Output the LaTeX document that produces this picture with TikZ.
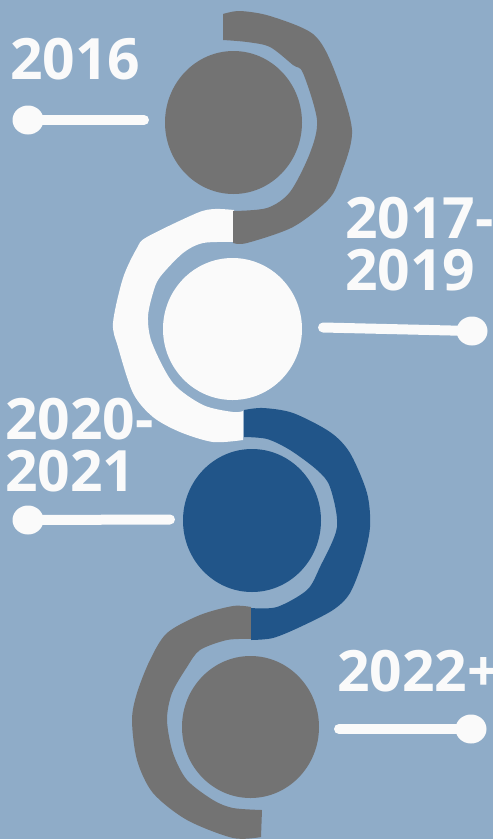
\documentclass[tikz,border=0pt]{standalone}
\usepackage{fontspec}
\setmainfont{Open Sans}
\usetikzlibrary{shapes.geometric}
\definecolor{bg}{HTML}{8FACC8}
\definecolor{greyc}{HTML}{737373}
\definecolor{whitec}{HTML}{FAFAFA}
\definecolor{bluec}{HTML}{215589}
\begin{document}
\begin{tikzpicture}[x=1pt,y=-1pt,
  blob/.style={ellipse,inner sep=0pt,draw=none},
  ball/.style={ellipse,inner sep=0pt,fill=whitec,minimum width=31pt,minimum height=29pt},
  pinline/.style={draw=whitec,line width=10pt,line cap=round},
  year/.style={anchor=north west,inner sep=0pt,align=left,text=whitec,
    font=\fontsize{57}{52}\selectfont\bfseries}]
\fill[bg] (0,0) rectangle (493,839);
\useasboundingbox (0,0) rectangle (493,839);

% arcs
\fill[whitec] plot[smooth] coordinates {(234,210) (215,209) (197,213) (147,237) (137,248) (123,278) (113,323) (118,347) (133,393) (153,417) (180,432) (213,442) (243,440)}
  -- plot[smooth] coordinates {(243,411) (233,412) (203,405) (173,383) (152,343) (148,317) (153,293) (160,277) (183,253) (203,243) (234,242)} -- cycle;
\fill[greyc] plot[smooth] coordinates {(223,14) (240,11) (270,16) (313,34) (333,67) (352,130) (340,177) (328,200) (293,227) (247,243) (233,243)}
  -- plot[smooth] coordinates {(233,211) (267,208) (290,192) (310,153) (317,120) (303,73) (293,65) (270,47) (247,42) (223,40)} -- cycle;
\fill[greyc] plot[smooth] coordinates {(251,607) (233,606) (200,615) (167,633) (150,660) (137,693) (132,720) (137,760) (153,793) (187,820) (233,838) (261,837)}
  -- plot[smooth] coordinates {(262,810) (233,808) (213,800) (187,780) (173,753) (167,720) (172,693) (187,667) (200,650) (227,640) (251,639)} -- cycle;
\fill[bluec] plot[smooth] coordinates {(244,410) (263,408) (293,413) (330,432) (350,453) (367,493) (370,527) (363,560) (350,593) (333,610) (300,627) (273,638) (251,640)}
  -- plot[smooth] coordinates {(251,608) (277,607) (307,590) (320,567) (337,527) (330,487) (317,470) (290,450) (267,439) (244,437)} -- cycle;

% circles
\node[blob,fill=greyc,minimum width=137pt,minimum height=143pt] (c1) at (233.5,122.5) {};
\node[blob,fill=whitec,minimum width=139pt,minimum height=142pt] (c2) at (232.5,329) {};
\node[blob,fill=bluec,minimum width=138pt,minimum height=143pt] (c3) at (252,520.5) {};
\node[blob,fill=greyc,minimum width=137pt,minimum height=142pt] (c4) at (250.5,727) {};

% pins
\node[ball] (b1) at (28,120) {};
\coordinate (e1) at (144,120);
\draw[pinline] (b1.center) -- (e1);
\node[ball] (b2) at (472,331) {};
\coordinate (e2) at (323,327.5);
\draw[pinline] (b2.center) -- (e2);
\node[ball] (b3) at (28,520) {};
\coordinate (e3) at (170,519.5);
\draw[pinline] (b3.center) -- (e3);
\node[ball] (b4) at (471,729) {};
\coordinate (e4) at (339,729);
\draw[pinline] (b4.center) -- (e4);

% labels
\node[year] (t1) at (10,38) {2016};
\node[year] (t2) at (345,197) {2017-\\2019};
\node[year] (t3) at (5,398) {2020-\\2021};
\node[year] (t4) at (337,650) {2022+};
\end{tikzpicture}
\end{document}
